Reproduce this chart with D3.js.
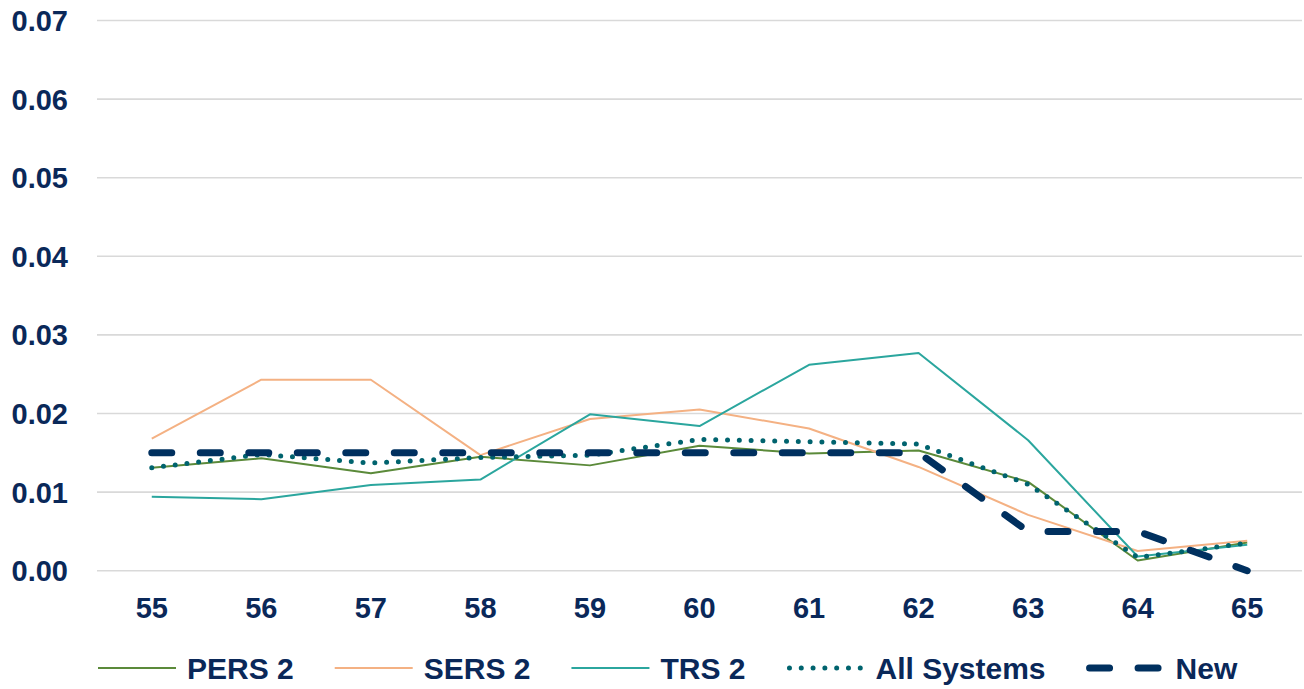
<html>
<head>
    <script src="https://d3js.org/d3.v7.min.js"></script>
    <style>
        body { margin: 0; background: white; }
        text { font-family: "Liberation Sans", Arial, sans-serif; font-weight: bold; fill: #0a2859; }
        .grid line { stroke: #d9d9d9; stroke-width: 1.6px; }
    </style>
</head>
<body>
    <svg id="chart" width="1304" height="689"></svg>
    <script>
        const ages = ["55", "56", "57", "58", "59", "60", "61", "62", "63", "64", "65"];
        const yTicks = [0, 0.01, 0.02, 0.03, 0.04, 0.05, 0.06, 0.07];

        const pers2 = [0.0131, 0.0143, 0.0124, 0.0145, 0.0134, 0.0159, 0.0149, 0.0153, 0.0113, 0.0013, 0.0036];
        const sers2 = [0.0168, 0.0243, 0.0243, 0.0147, 0.0193, 0.0205, 0.0181, 0.0132, 0.0071, 0.0025, 0.0038];
        const trs2 = [0.0094, 0.0091, 0.0109, 0.0116, 0.0199, 0.0184, 0.0262, 0.0277, 0.0166, 0.0018, 0.0033];
        const allSystems = [0.0131, 0.0148, 0.0137, 0.0144, 0.0147, 0.0167, 0.0164, 0.0161, 0.0110, 0.0017, 0.0035];
        const newRates = [0.015, 0.015, 0.015, 0.015, 0.015, 0.015, 0.015, 0.015, 0.005, 0.005, 0.000];

        const series = [
            { name: "PERS 2", values: pers2, color: "#5b8a3a", width: 2, dash: null, cap: "butt" },
            { name: "SERS 2", values: sers2, color: "#f4b183", width: 2, dash: null, cap: "butt" },
            { name: "TRS 2", values: trs2, color: "#2ba69e", width: 2, dash: null, cap: "butt" },
            { name: "All Systems", values: allSystems, color: "#00636e", width: 5, dash: "0 11.8", cap: "round" },
            { name: "New", values: newRates, color: "#00305f", width: 7, dash: "20 28.5", cap: "round" }
        ];

        const svg = d3.select("#chart");
        const plotLeft = 97, plotRight = 1302, plotTop = 20.5, plotBottom = 570.7;

        const x = d3.scalePoint().domain(ages).range([plotLeft, plotRight]).padding(0.5);
        const y = d3.scaleLinear().domain([0, 0.07]).range([plotBottom, plotTop]);

        // gridlines
        svg.append("g").attr("class", "grid")
            .selectAll("line").data(yTicks)
            .join("line")
            .attr("x1", plotLeft).attr("x2", plotRight)
            .attr("y1", d => y(d)).attr("y2", d => y(d));

        // y labels
        svg.append("g").selectAll("text").data(yTicks)
            .join("text")
            .attr("x", 68).attr("y", d => y(d))
            .attr("dy", "0.36em")
            .attr("text-anchor", "end")
            .style("font-size", "29px")
            .text(d => d.toFixed(2));

        // x labels
        svg.append("g").selectAll("text").data(ages)
            .join("text")
            .attr("x", d => x(d)).attr("y", 618)
            .attr("text-anchor", "middle")
            .style("font-size", "29px")
            .text(d => d);

        const line = d3.line()
            .x((d, i) => x(ages[i]))
            .y(d => y(d));

        svg.append("g").selectAll("path").data(series)
            .join("path")
            .attr("d", d => line(d.values))
            .attr("fill", "none")
            .attr("stroke", d => d.color)
            .attr("stroke-width", d => d.width)
            .attr("stroke-dasharray", d => d.dash)
            .attr("stroke-linecap", d => d.cap)
            .attr("stroke-linejoin", "round");

        // legend
        const legend = svg.append("g");
        let lx = 98;
        const ly = 668;
        series.forEach(s => {
            legend.append("line")
                .attr("x1", s.dash ? lx + 3 : lx).attr("x2", lx + 78)
                .attr("y1", ly).attr("y2", ly)
                .attr("stroke", s.color)
                .attr("stroke-width", s.width)
                .attr("stroke-dasharray", s.dash)
                .attr("stroke-linecap", s.cap);
            const t = legend.append("text")
                .attr("x", lx + 89).attr("y", ly)
                .attr("dy", "0.36em")
                .style("font-size", "30px")
                .text(s.name);
            lx += 89 + t.node().getComputedTextLength() + 41;
        });
    </script>
</body>
</html>
